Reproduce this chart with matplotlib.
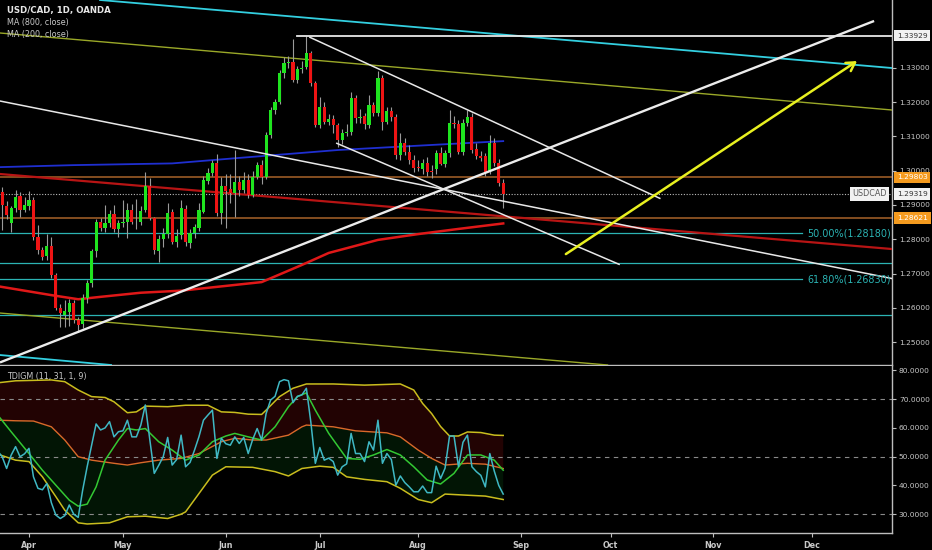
import numpy as np
import pandas as pd
import matplotlib
matplotlib.use('Agg')
import matplotlib.pyplot as plt
from matplotlib.transforms import blended_transform_factory as btf

# ---------------- data ----------------
start_date = '2018-03-22'
ref_date = '2018-04-02'
end_date = '2018-12-31'

opens = [1.2960, 1.2939, 1.2897, 1.2846, 1.2890, 1.2926, 1.2885, 1.2898, 1.2914, 1.2806,
         1.2768, 1.2750, 1.2780, 1.2695, 1.2599, 1.2579, 1.2589, 1.2615, 1.2565, 1.2552,
         1.2628, 1.2673, 1.2765, 1.2851, 1.2832, 1.2847, 1.2874, 1.2829, 1.2847, 1.2851,
         1.2885, 1.2851, 1.2849, 1.2885, 1.2955, 1.2861, 1.2765, 1.2800, 1.2815, 1.2880,
         1.2793, 1.2812, 1.2888, 1.2790, 1.2819, 1.2832, 1.2880, 1.2971, 1.2994, 1.3021,
         1.2875, 1.2955, 1.2945, 1.2934, 1.2968, 1.2943, 1.2972, 1.2929, 1.2982, 1.3016,
         1.2982, 1.3104, 1.3177, 1.3201, 1.3285, 1.3313, 1.3318, 1.3264, 1.3295, 1.3303,
         1.3342, 1.3255, 1.3133, 1.3186, 1.3143, 1.3150, 1.3133, 1.3089, 1.3111, 1.3114,
         1.3211, 1.3152, 1.3159, 1.3133, 1.3191, 1.3167, 1.3269, 1.3143, 1.3175, 1.3155,
         1.3045, 1.3080, 1.3055, 1.3031, 1.3010, 1.3005, 1.3023, 1.3000, 1.3004, 1.3052,
         1.3020, 1.3050, 1.3140, 1.3136, 1.3055, 1.3140, 1.3157, 1.3062, 1.3043, 1.3043,
         1.2997, 1.3081, 1.3023, 1.2965]
highs = [1.2978, 1.2952, 1.2912, 1.2898, 1.2943, 1.2938, 1.2922, 1.2940, 1.2922, 1.2840,
         1.2778, 1.2815, 1.2806, 1.2702, 1.2612, 1.2622, 1.2626, 1.2624, 1.2572, 1.2640,
         1.2682, 1.2772, 1.2860, 1.2862, 1.2900, 1.2886, 1.2900, 1.2855, 1.2914, 1.2906,
         1.2902, 1.2917, 1.2897, 1.2995, 1.2978, 1.2866, 1.2812, 1.2832, 1.2905, 1.2888,
         1.2830, 1.2914, 1.2900, 1.2830, 1.2845, 1.2905, 1.2985, 1.3008, 1.3030, 1.3048,
         1.2980, 1.2990, 1.2990, 1.3060, 1.2985, 1.2997, 1.2990, 1.3000, 1.3025, 1.3030,
         1.3112, 1.3185, 1.3208, 1.3292, 1.3330, 1.3335, 1.3385, 1.3305, 1.3320, 1.3393,
         1.3350, 1.3262, 1.3215, 1.3200, 1.3165, 1.3162, 1.3140, 1.3120, 1.3135, 1.3230,
         1.3220, 1.3180, 1.3168, 1.3220, 1.3200, 1.3291, 1.3280, 1.3185, 1.3185, 1.3165,
         1.3110, 1.3095, 1.3075, 1.3045, 1.3030, 1.3035, 1.3040, 1.3015, 1.3060, 1.3070,
         1.3060, 1.3178, 1.3160, 1.3148, 1.3150, 1.3178, 1.3168, 1.3080, 1.3058, 1.3050,
         1.3104, 1.3095, 1.3035, 1.2975]
lows = [1.2930, 1.2828, 1.2858, 1.2820, 1.2878, 1.2866, 1.2878, 1.2886, 1.2798, 1.2758,
        1.2740, 1.2738, 1.2688, 1.2594, 1.2545, 1.2545, 1.2548, 1.2557, 1.2530, 1.2540,
        1.2614, 1.2662, 1.2749, 1.2824, 1.2822, 1.2836, 1.2820, 1.2807, 1.2835, 1.2805,
        1.2843, 1.2830, 1.2840, 1.2880, 1.2855, 1.2758, 1.2734, 1.2778, 1.2805, 1.2785,
        1.2776, 1.2800, 1.2780, 1.2775, 1.2805, 1.2825, 1.2875, 1.2960, 1.2985, 1.2868,
        1.2845, 1.2832, 1.2905, 1.2866, 1.2925, 1.2935, 1.2920, 1.2922, 1.2975, 1.2960,
        1.2975, 1.3095, 1.3165, 1.3195, 1.3270, 1.3300, 1.3258, 1.3255, 1.3285, 1.3295,
        1.3248, 1.3128, 1.3125, 1.3135, 1.3132, 1.3110, 1.3068, 1.3078, 1.3100, 1.3105,
        1.3140, 1.3140, 1.3120, 1.3125, 1.3160, 1.3160, 1.3118, 1.3135, 1.3145, 1.3035,
        1.3030, 1.3045, 1.3020, 1.2995, 1.2998, 1.2990, 1.2985, 1.2978, 1.2990, 1.3015,
        1.3010, 1.3040, 1.3125, 1.3048, 1.3045, 1.3130, 1.3052, 1.3035, 1.3028, 1.2985,
        1.2990, 1.3012, 1.2955, 1.2891]
closes = [1.2940, 1.2900, 1.2870, 1.2890, 1.2924, 1.2885, 1.2900, 1.2914, 1.2807, 1.2768,
          1.2749, 1.2780, 1.2695, 1.2599, 1.2584, 1.2592, 1.2615, 1.2565, 1.2550, 1.2629,
          1.2673, 1.2765, 1.2851, 1.2832, 1.2847, 1.2874, 1.2829, 1.2847, 1.2851, 1.2885,
          1.2851, 1.2849, 1.2883, 1.2955, 1.2861, 1.2768, 1.2800, 1.2815, 1.2877, 1.2793,
          1.2809, 1.2890, 1.2792, 1.2819, 1.2835, 1.2885, 1.2973, 1.2994, 1.3021, 1.2875,
          1.2955, 1.2940, 1.2934, 1.2968, 1.2943, 1.2972, 1.2929, 1.2982, 1.3016, 1.2982,
          1.3104, 1.3177, 1.3201, 1.3285, 1.3313, 1.3318, 1.3264, 1.3295, 1.3300, 1.3342,
          1.3255, 1.3133, 1.3186, 1.3143, 1.3150, 1.3133, 1.3089, 1.3111, 1.3114, 1.3211,
          1.3152, 1.3155, 1.3136, 1.3191, 1.3167, 1.3269, 1.3143, 1.3175, 1.3155, 1.3045,
          1.3080, 1.3055, 1.3031, 1.3007, 1.3007, 1.3023, 1.2997, 1.2997, 1.3052, 1.3020,
          1.3050, 1.3140, 1.3136, 1.3055, 1.3140, 1.3157, 1.3060, 1.3043, 1.3037, 1.2997,
          1.3081, 1.3021, 1.2963, 1.2932]

# moving averages (bar index, value)
ma800_bars = [-7, 10, 32, 46, 69, 86, 106]
ma800_vals = [1.3010, 1.3016, 1.3021, 1.3036, 1.3060, 1.3072, 1.3086]
ma200_bars = [-7, 5, 11, 16, 25, 34, 52, 61, 67, 78, 87, 96, 106]
ma200_vals = [1.2663, 1.2637, 1.2625, 1.2632, 1.2644, 1.2650, 1.2675, 1.2725, 1.2760,
              1.2798, 1.2815, 1.2830, 1.2846]

# horizontal levels
peak_level = 1.33929
last_price = 1.29319
orange_levels = [1.29803, 1.28621]
fib_levels = [1.28180, 1.26830]
fib_labels = ['50.00%(1.28180)', '61.80%(1.26830)']
teal_levels = [1.2732, 1.2579]
price_ticks = [1.25, 1.26, 1.27, 1.28, 1.29, 1.30, 1.31, 1.32, 1.33]

# drawn trend lines (bar, price) anchors
cyan_top = [(15.87, 1.34974), (192.9, 1.32991)]
cyan_bot = [(-6.48, 1.24624), (15.87, 1.24362)]
olive_top = [(-6.48, 1.34012), (192.9, 1.31767)]
olive_bot = [(-6.48, 1.25848), (129.4, 1.24332)]
red_line = [(-6.48, 1.29901), (192.9, 1.27714)]
white_long = [(-6.48, 1.32029), (192.9, 1.26854)]
white_rise = [(-6.48, 1.24408), (188.9, 1.34362)]
chan_upper = [(62.8, 1.33886), (141.0, 1.29192)]
chan_lower = [(68.8, 1.30796), (131.9, 1.27268)]
peak_start = 60
arrow_pts = [(120.0, 1.27567), (185.1, 1.33195)]

# TDIGM indicator
rsi_vals = [52.0, 50.0, 45.9, 50.5, 53.5, 50.0, 51.0, 52.9, 43.0, 39.0,
            38.5, 40.7, 34.0, 29.7, 28.5, 29.5, 33.2, 30.0, 28.9, 38.4,
            46.5, 54.0, 61.4, 59.3, 60.0, 62.2, 56.9, 58.7, 59.0, 62.7,
            56.9, 56.9, 61.0, 68.0, 56.0, 44.2, 47.0, 50.0, 56.7, 47.1,
            49.0, 57.5, 46.5, 48.0, 52.3, 57.0, 62.7, 64.5, 66.2, 49.4,
            56.4, 54.5, 54.0, 56.9, 54.6, 56.7, 51.1, 56.0, 59.8, 55.8,
            65.0, 69.7, 71.0, 76.1, 76.8, 76.4, 68.8, 71.0, 71.5, 73.8,
            62.0, 47.7, 53.2, 48.8, 49.5, 48.3, 43.6, 46.5, 47.5, 58.1,
            51.1, 51.1, 48.3, 55.2, 52.3, 62.7, 47.7, 51.1, 49.0, 40.1,
            43.3, 41.0, 39.5, 37.8, 37.8, 39.8, 37.5, 37.5, 46.7, 42.4,
            46.0, 57.2, 57.2, 46.5, 55.0, 57.5, 46.5, 44.8, 43.5, 39.5,
            51.1, 45.0, 40.0, 37.0]
up_bars = [-7, -3, 5, 8, 11, 14, 17, 19, 22, 24, 26, 31, 35, 40, 43, 46, 49, 52, 53, 56,
           59, 62, 68, 75, 83, 86, 88, 90, 92, 94, 96, 98, 101, 104, 106]
up_vals = [75.7, 76.4, 76.7, 76.1, 73.2, 70.9, 70.6, 69.1, 65.3, 65.6, 67.6, 67.4, 67.9,
           67.9, 65.6, 65.4, 64.8, 64.7, 66.2, 70.9, 73.8, 75.3, 75.3, 74.9, 75.3, 73.2,
           68.5, 65.0, 60.5, 57.2, 57.2, 58.6, 58.4, 57.5, 57.4]
mid_bars = [-7, -3, 1, 5, 8, 11, 14, 19, 22, 25, 29, 34, 38, 43, 46, 50, 53, 58, 61, 62,
            68, 73, 80, 83, 87, 90, 93, 98, 102, 106]
mid_vals = [62.7, 62.5, 62.4, 60.4, 55.8, 50.0, 48.8, 47.7, 47.1, 47.9, 48.8, 49.4, 51.1,
            55.2, 56.4, 55.8, 55.8, 57.5, 60.4, 61.0, 60.4, 59.0, 58.3, 56.9, 52.3, 49.4,
            47.1, 47.7, 47.4, 45.9]
low_bars = [-7, -3, 0, 3, 6, 8, 11, 13, 18, 22, 26, 31, 34, 35, 38, 41, 44, 50, 55, 58,
            61, 65, 68, 71, 75, 80, 83, 87, 90, 93, 98, 102, 106]
low_vals = [50.9, 48.8, 48.3, 43.0, 36.1, 31.4, 27.0, 26.6, 27.0, 29.1, 29.3, 28.5, 30.0,
            30.8, 37.2, 43.6, 46.5, 46.3, 44.8, 43.3, 45.9, 46.7, 46.3, 43.0, 42.1, 41.3,
            39.0, 35.1, 34.0, 37.0, 36.6, 36.3, 35.1]
sig_bars = [-7, -4, 0, 3, 6, 9, 11, 13, 15, 17, 20, 22, 24, 26, 29, 32, 35, 38, 41, 44,
            46, 49, 52, 55, 58, 60, 62, 64, 67, 71, 74, 77, 80, 83, 86, 89, 92, 95, 98,
            101, 104, 106]
sig_vals = [64.5, 58.7, 51.1, 45.3, 40.1, 34.9, 32.8, 33.5, 39.5, 48.8, 55.8, 59.8, 59.3,
            59.8, 55.2, 52.3, 48.8, 50.6, 55.2, 57.2, 58.1, 56.9, 55.8, 60.4, 67.4, 70.9,
            72.2, 66.2, 58.1, 49.4, 49.1, 50.6, 52.5, 50.6, 46.5, 41.9, 40.5, 44.2, 50.6,
            50.6, 48.8, 45.3]
ind_levels = [70, 50, 30]
ind_ticks = [30, 40, 50, 60, 70, 80]

# ---------------- positions from calendar ----------------
full = pd.bdate_range(start_date, end_date)
ref = full.get_loc(pd.Timestamp(ref_date))
x = np.arange(len(closes)) - ref
ms_mask = ~full.to_period('M').duplicated()
ms_mask[0] = False
month_pos = np.where(ms_mask)[0] - ref
month_lab = [d.strftime('%b') for d in full[ms_mask]]

# ---------------- styling ----------------
BG = '#000000'
TXT = '#c8c8c8'
GRID = '#bdbdbd'
GREEN = '#1fe41f'
RED = '#ee1414'
TEAL = '#2bb3b3'
plt.rcParams['font.family'] = ['DejaVu Sans']

W, H = 932, 550
fig = plt.figure(figsize=(W / 100, H / 100), dpi=100, facecolor=BG)
ax = fig.add_axes([0, 1 - 365 / H, 892 / W, 365 / H], facecolor=BG)
ax2 = fig.add_axes([0, 1 - 533 / H, 892 / W, 167 / H], facecolor=BG)

XL = (-6.48, 192.9)
for a in (ax, ax2):
    a.set_xlim(*XL)
    for s in ('left', 'top'):
        a.spines[s].set_visible(False)
    a.spines['right'].set_color(GRID)
    a.spines['bottom'].set_color(GRID)
    a.spines['right'].set_linewidth(1.0)
    a.spines['bottom'].set_linewidth(1.0)
ax.set_ylim(1.24333, 1.34974)
ax2.set_ylim(23.46, 81.55)

# main panel ticks
ax.set_xticks([])
ax.yaxis.tick_right()
ax.set_yticks(price_ticks)
ax.set_yticklabels([f'{v:.5f}' for v in price_ticks])
ax.tick_params(axis='y', colors=GRID, labelcolor=TXT, labelsize=5.4, length=3, pad=2)

# horizontal levels
for lv in orange_levels:
    ax.axhline(lv, color='#9a5b26', lw=1.2, zorder=2)
ax.axhline(last_price, color='#bbbbbb', lw=0.8, ls=(0, (1, 1.5)), zorder=2)
for lv in teal_levels:
    ax.axhline(lv, color=TEAL, lw=0.9, zorder=2)
for lv, lab in zip(fib_levels, fib_labels):
    ax.plot([XL[0], 172.8], [lv, lv], color=TEAL, lw=0.9, zorder=2)
    ax.text(174, lv, lab, color=TEAL, fontsize=6.9, va='center', ha='left', zorder=7, clip_on=True)

# moving averages
ax.plot(ma800_bars, ma800_vals, color='#1f2fd0', lw=1.3, zorder=3)
ax.plot(ma200_bars, ma200_vals, color='#e01818', lw=1.8, zorder=3)

# trend lines
ax.axline(*cyan_top, color='#33cfe0', lw=1.3, zorder=3)
ax.axline(*cyan_bot, color='#33cfe0', lw=1.3, zorder=3)
ax.axline(*olive_top, color='#9aa828', lw=1.0, zorder=3)
ax.axline(*olive_bot, color='#9aa828', lw=1.0, zorder=3)
ax.axline(*red_line, color='#b81414', lw=1.6, zorder=3)

# candles
o = np.array(opens); c = np.array(closes); h = np.array(highs); l = np.array(lows)
colors = np.where(c >= o, GREEN, RED)
ax.vlines(x, l, h, color='#9a9a9a', lw=0.8, zorder=4)
ax.bar(x, np.maximum(np.abs(c - o), 0.0002), bottom=np.minimum(o, c), width=0.7,
       color=colors, linewidth=0, zorder=5)

# white drawings
ax.axline(*white_long, color='#e8e8e8', lw=1.1, zorder=6)
ax.plot(*zip(*white_rise), color='#ececec', lw=1.7, zorder=6, solid_capstyle='butt')
ax.plot(*zip(*chan_upper), color='#e8e8e8', lw=1.1, zorder=6)
ax.plot(*zip(*chan_lower), color='#e8e8e8', lw=1.1, zorder=6)
ax.plot([peak_start, XL[1]], [peak_level, peak_level], color='#e8e8e8', lw=1.3, zorder=6)
ax.annotate('', xy=arrow_pts[1], xytext=arrow_pts[0],
            arrowprops=dict(arrowstyle='->,head_length=0.6,head_width=0.35',
                            color='#e8f020', lw=1.8, shrinkA=0, shrinkB=0), zorder=7)

# right-side price labels
tr = btf(ax.transAxes, ax.transData)
box_x = 1.0 + 5 / 892
def plabel(v, text, fc, tc):
    ax.text(box_x, v, text, transform=tr, fontsize=5.4, color=tc, va='center', ha='left',
            clip_on=False, zorder=10,
            bbox=dict(boxstyle='square,pad=0.35', fc=fc, ec='none'))
plabel(peak_level, f'{peak_level:.5f}', '#f2f2f2', '#333333')
plabel(orange_levels[0], f'{orange_levels[0]:.5f}', '#f59b1f', '#ffffff')
plabel(last_price, f'{last_price:.5f}', '#f2f2f2', '#333333')
plabel(orange_levels[1], f'{orange_levels[1]:.5f}', '#f59b1f', '#ffffff')
ax.text(1.0 - 5 / 892, last_price, 'USDCAD', transform=tr, fontsize=5.8, color='#555555',
        va='center', ha='right', zorder=10,
        bbox=dict(boxstyle='square,pad=0.3', fc='#f2f2f2', ec='none'))

# legend texts
fig.text(7 / W, 1 - 11 / H, 'USD/CAD, 1D, OANDA', color='#e6e6e6', fontsize=6.2,
         fontweight='bold', va='center', ha='left')
fig.text(7 / W, 1 - 23 / H, 'MA (800, close)', color=TXT, fontsize=5.8, va='center', ha='left')
fig.text(7 / W, 1 - 34 / H, 'MA (200, close)', color=TXT, fontsize=5.8, va='center', ha='left')

# ---------------- TDIGM panel ----------------
ax2.fill(np.r_[up_bars, mid_bars[::-1]], np.r_[up_vals, mid_vals[::-1]],
         color='#220303', lw=0, zorder=1)
ax2.fill(np.r_[mid_bars, low_bars[::-1]], np.r_[mid_vals, low_vals[::-1]],
         color='#021505', lw=0, zorder=1)
for lv in ind_levels:
    ax2.axhline(lv, color='#8a8a8a', lw=0.8, ls=(0, (4, 4)), zorder=2)
ax2.plot(up_bars, up_vals, color='#c9bd1e', lw=1.1, zorder=3)
ax2.plot(low_bars, low_vals, color='#c9bd1e', lw=1.1, zorder=3)
ax2.plot(mid_bars, mid_vals, color='#d9692a', lw=1.0, zorder=3)
ax2.plot(sig_bars, sig_vals, color='#33c833', lw=1.1, zorder=4)
ax2.plot(x, rsi_vals, color='#3fb8c4', lw=1.1, zorder=5)

ax2.yaxis.tick_right()
ax2.set_yticks(ind_ticks)
ax2.set_yticklabels([f'{v:.4f}' for v in ind_ticks])
ax2.tick_params(axis='y', colors=GRID, labelcolor=TXT, labelsize=5.4, length=3, pad=2)
ax2.set_xticks(month_pos)
ax2.set_xticklabels(month_lab, fontweight='bold')
ax2.tick_params(axis='x', colors=GRID, labelcolor=TXT, labelsize=5.8, length=3, pad=3)
fig.text(7 / W, 1 - 377 / H, 'TDIGM (11, 31, 1, 9)', color=TXT, fontsize=5.8,
         va='center', ha='left')

assert len(opens) == len(highs) == len(lows) == len(closes) == len(rsi_vals)
fig.savefig('out.png', dpi=100, facecolor=BG)
